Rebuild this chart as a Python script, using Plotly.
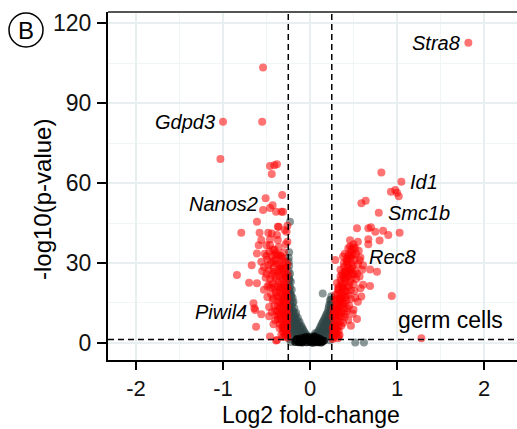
import plotly.graph_objects as go

# ---------------- data ----------------
# down-regulated (red, left)
down_x = [-1.00, -1.03, -0.54, -0.55, -0.46, -0.41, -0.38, -0.44, -0.51, -0.32, -0.43, -0.54, -0.46, -0.39,
          -0.33, -0.61, -0.37, -0.79, -0.58, -0.44, -0.38, -0.27, -0.56, -0.46, -0.37, -0.59, -0.50, -0.43,
          -0.47, -0.61, -0.50, -0.40, -0.33, -0.67, -0.56, -0.84, -0.70, -0.61, -0.65, -0.63, -0.56, -0.62,
          -0.38, -0.46, -0.31, -0.48, -0.36, -0.29, -0.64, -0.39,
          -0.26, -0.27, -0.29, -0.31, -0.28, -0.33, -0.26,
          -0.27, -0.30, -0.32, -0.35, -0.28, -0.26, -0.34, -0.37, -0.30, -0.40,
          -0.27, -0.29, -0.32, -0.35, -0.38, -0.26, -0.31, -0.41, -0.44, -0.28, -0.36, -0.47,
          -0.26, -0.30, -0.33, -0.38, -0.42, -0.28, -0.35, -0.45, -0.31, -0.40, -0.49, -0.26,
          -0.29, -0.33, -0.37, -0.43, -0.27, -0.31, -0.39, -0.47, -0.35, -0.44, -0.51, -0.26,
          -0.29, -0.33, -0.38, -0.42, -0.47, -0.31, -0.36, -0.45, -0.53, -0.28, -0.40,
          -0.33, -0.37, -0.44, -0.49, -0.30, -0.41, -0.36, -0.46, -0.28, -0.26, -0.26,
          -0.27, -0.29, -0.26, -0.30, -0.27, -0.32, -0.28, -0.34, -0.26, -0.29, -0.31, -0.27,
          -0.26, -0.28, -0.30, -0.27, -0.29, -0.32, -0.34, -0.26, -0.28, -0.31, -0.33, -0.36,
          -0.27, -0.30, -0.34, -0.37, -0.27, -0.29, -0.32, -0.36, -0.39, -0.27, -0.30, -0.34,
          -0.36, -0.41, -0.28, -0.32, -0.36, -0.40, -0.30, -0.34, -0.39, -0.42, -0.27, -0.31,
          -0.35, -0.39, -0.42, -0.48, -0.50, -0.46, -0.49, -0.45, -0.43, -0.40, -0.38, -0.35,
          -0.31, -0.52, -0.55, -0.53, -0.47, -0.42]
down_y = [83.0, 69.0, 103.4, 83.0, 66.4, 66.7, 67.1, 63.4, 54.3, 55.5, 51.7, 49.9, 50.6, 49.2,
          49.2, 45.5, 43.6, 41.4, 41.4, 41.1, 40.5, 41.7, 38.6, 38.9, 38.6, 36.7, 36.7, 35.1,
          34.2, 33.6, 32.6, 33.0, 32.4, 29.2, 30.5, 25.5, 22.6, 22.4, 14.9, 12.4, 10.8, 6.1,
          1.1, 2.4, 49.2, 41.4, 43.6, 42.4, 13.0, 0.9,
          2.0, 3.5, 2.8, 4.2, 5.0, 3.1, 6.0,
          7.0, 6.5, 8.0, 7.2, 9.0, 9.5, 10.0, 9.1, 10.5, 8.5,
          11.5, 12.5, 11.8, 13.0, 12.0, 13.5, 14.2, 14.0, 11.5, 15.0, 15.5, 13.5,
          16.5, 17.0, 16.2, 17.5, 16.8, 18.5, 19.0, 18.5, 19.8, 20.0, 17.2, 20.5,
          21.5, 22.0, 21.2, 22.5, 23.5, 24.0, 23.8, 21.8, 25.0, 25.5, 24.5, 25.8,
          26.5, 27.5, 27.0, 28.2, 27.3, 29.0, 29.5, 30.0, 28.5, 30.5, 31.0,
          31.5, 33.0, 32.5, 31.2, 34.0, 35.0, 36.0, 36.8, 37.0, 38.0, 44.0,
          4.5, 7.8, 11.0, 15.8, 18.0, 20.8, 24.8, 27.8, 29.5, 10.2, 5.6, 13.0,
          3.0, 4.2, 5.2, 5.8, 7.2, 6.0, 8.8, 8.2, 10.8, 11.2, 12.8, 10.8,
          14.5, 15.6, 14.8, 14.0, 17.8, 19.2, 18.0, 17.2, 18.8, 21.0, 22.5, 20.5,
          23.0, 21.0, 24.8, 25.6, 26.4, 25.2, 27.8, 28.8, 29.8, 26.6, 28.2, 31.8,
          32.8, 33.8, 30.8, 29.2, 26.0, 24.0, 21.2, 20.8, 16.0, 12.0, 10.2, 5.5,
          2.2, 33.5, 27.0, 20.0, 10.0, 7.0]

# up-regulated (red, right)
up_x = [1.82, 1.05, 0.82, 0.93, 1.00, 1.02, 0.98, 0.59, 0.64, 0.79, 0.54, 0.67, 0.70, 0.75, 0.84,
        1.03, 0.90, 0.67, 0.80, 0.50, 0.56, 0.38, 0.48, 0.58, 0.29, 0.69, 0.61, 0.77, 0.69, 0.57,
        0.94, 0.59, 0.44, 0.34, 1.28, 0.61, 0.67,
        0.26, 0.28, 0.27, 0.30, 0.32, 0.29, 0.33, 0.26,
        0.27, 0.30, 0.33, 0.28, 0.31, 0.35, 0.38, 0.26, 0.34, 0.40, 0.47,
        0.29, 0.32, 0.36, 0.28, 0.31, 0.35, 0.39, 0.42, 0.33, 0.38, 0.45, 0.50, 0.27,
        0.30, 0.34, 0.37, 0.41, 0.32, 0.36, 0.40, 0.44, 0.47, 0.52, 0.29, 0.55,
        0.33, 0.37, 0.40, 0.35, 0.43, 0.46, 0.39, 0.50, 0.44, 0.53, 0.31,
        0.37, 0.41, 0.45, 0.39, 0.43, 0.48, 0.52, 0.47, 0.35, 0.55,
        0.42, 0.45, 0.51, 0.40, 0.47, 0.53, 0.44, 0.50, 0.46,
        0.26, 0.28, 0.30, 0.27, 0.31, 0.29, 0.34, 0.32, 0.36, 0.38, 0.41, 0.43, 0.48, 0.35, 0.42,
        0.27, 0.29, 0.31, 0.28, 0.30, 0.32, 0.29, 0.33, 0.36, 0.30, 0.34, 0.37, 0.40,
        0.31, 0.35, 0.39, 0.42, 0.33, 0.38, 0.42, 0.45, 0.36, 0.41, 0.48, 0.38, 0.42,
        0.46, 0.40, 0.44, 0.49, 0.43, 0.47, 0.50, 0.44, 0.48, 0.52, 0.46, 0.55, 0.57,
        0.54, 0.50, 0.51, 0.47, 0.43, 0.40, 0.36, 0.33, 0.58, 0.60, 0.39, 0.49, 0.54]
up_y = [112.7, 60.5, 64.0, 56.7, 56.4, 55.1, 57.4, 52.4, 53.4, 48.9, 43.0, 43.0, 43.4, 41.7, 42.1,
        41.4, 40.5, 38.9, 38.4, 35.9, 34.6, 32.4, 33.0, 32.1, 31.1, 27.6, 29.2, 26.7, 21.4, 24.9,
        17.6, 17.4, 8.6, 3.0, 1.8, 21.8, 37.0,
        1.5, 2.5, 4.0, 3.5, 1.8, 5.0, 4.6, 5.5,
        6.5, 7.0, 6.2, 8.5, 9.0, 8.0, 7.5, 9.8, 10.3, 9.8, 6.5,
        11.0, 12.0, 11.5, 13.5, 14.0, 13.8, 12.8, 11.8, 15.0, 15.2, 14.0, 12.5, 12.5,
        16.5, 17.0, 16.5, 17.2, 18.5, 19.0, 19.5, 18.0, 19.8, 17.0, 18.0, 15.5,
        21.0, 21.5, 22.5, 23.5, 21.0, 23.0, 24.5, 22.0, 25.0, 24.0, 22.5,
        26.0, 27.0, 26.5, 28.5, 29.5, 28.0, 27.0, 30.0, 27.5, 29.5,
        31.5, 32.5, 31.0, 33.5, 34.0, 33.5, 35.5, 37.0, 38.5,
        3.0, 6.0, 10.5, 11.0, 13.0, 16.0, 15.8, 20.2, 18.2, 20.8, 24.2, 27.0, 25.8, 25.0, 30.5,
        2.0, 3.2, 4.8, 6.0, 5.5, 8.2, 10.0, 11.2, 9.8, 12.8, 13.0, 14.2, 14.8,
        15.8, 16.2, 17.8, 16.0, 19.8, 20.5, 19.2, 21.5, 22.2, 23.8, 24.2, 25.2, 25.8,
        27.5, 26.8, 28.2, 29.0, 30.8, 31.8, 33.0, 33.0, 35.2, 35.5, 36.2, 38.0, 31.0,
        26.0, 25.8, 19.5, 16.5, 13.0, 10.8, 6.5, 2.5, 20.5, 27.5, 30.0, 11.0, 9.0]

# not significant (grey)
ns_x = [-0.23, -0.24, -0.24, -0.245, -0.23, -0.24, -0.22, -0.245, -0.23, -0.21, -0.24, -0.22, -0.20,
        -0.24, -0.19, -0.225, -0.21, -0.18, -0.24, -0.20, -0.16, -0.23, -0.185, -0.14, -0.22, -0.17,
        -0.12, -0.20, -0.15, -0.10, -0.24, -0.18, -0.13, -0.08, -0.21, -0.16, -0.11, -0.06, -0.19,
        -0.14, -0.09, -0.04, -0.23, -0.17, -0.12, -0.02,
        0.245, 0.23, 0.245, 0.22, 0.24, 0.21, 0.235, 0.19, 0.245, 0.22, 0.17, 0.20, 0.24, 0.15,
        0.22, 0.18, 0.13, 0.245, 0.20, 0.16, 0.11, 0.23, 0.18, 0.14, 0.09, 0.21, 0.07, 0.12, 0.17,
        0.24, 0.04, 0.10, 0.15, 0.20, 0.146, 0.52, 0.62, -0.22, 0.23, -0.24,
        -0.245, -0.235, -0.245, -0.23, -0.215, -0.245, -0.20, -0.235, -0.22, -0.19, -0.245, -0.17,
        -0.21, -0.235, -0.155, -0.19, -0.13, -0.22, -0.17, -0.11, -0.20, -0.145, -0.09, -0.19,
        -0.125, -0.07, -0.22, -0.10, -0.16, -0.05, -0.20, -0.14, -0.03, -0.245, -0.245,
        0.24, 0.235, 0.215, 0.245, 0.20, 0.225, 0.18, 0.21, 0.16, 0.235, 0.19, 0.14, 0.21,
        0.17, 0.12, 0.225, 0.19, 0.10, 0.15, 0.20, 0.06, 0.13, 0.24, 0.08, 0.18, 0.22, 0.02, 0.125]
ns_y = [45.5, 34.0, 29.0, 27.0, 26.0, 24.0, 23.0, 22.0, 21.0, 20.0, 19.5, 18.0, 17.0,
        16.5, 15.5, 15.0, 13.8, 13.0, 13.0, 12.0, 11.2, 11.0, 10.2, 9.5, 9.5, 8.8,
        8.0, 8.0, 7.2, 6.5, 7.0, 6.5, 5.8, 5.0, 5.5, 5.0, 4.3, 3.8, 4.0,
        3.5, 3.0, 2.8, 3.5, 2.8, 2.5, 2.2,
        17.5, 16.0, 15.0, 14.2, 13.0, 12.3, 11.5, 10.8, 10.5, 10.0, 9.3, 8.8, 8.5, 8.0,
        7.6, 7.2, 6.6, 6.5, 6.2, 5.8, 5.2, 5.2, 4.8, 4.4, 4.0, 4.0, 3.2, 3.4, 3.5,
        3.2, 2.6, 2.5, 2.4, 2.5, 18.6, 0.2, 0.2, 0.4, 1.0, 1.5,
        25.0, 23.5, 20.5, 19.0, 17.5, 18.0, 15.0, 14.0, 12.5, 11.8, 11.8, 10.5,
        10.8, 9.8, 9.0, 9.2, 7.6, 7.8, 7.6, 6.2, 6.8, 6.4, 5.5, 5.4,
        4.8, 4.3, 4.5, 3.6, 3.8, 3.2, 2.7, 2.6, 2.6, 30.5, 32.0,
        16.2, 14.6, 13.2, 12.0, 11.2, 10.8, 10.0, 9.3, 8.6, 8.8, 8.1, 7.4, 7.2,
        6.7, 6.0, 6.0, 5.5, 4.6, 5.1, 4.6, 3.6, 3.9, 4.4, 2.8, 3.0, 3.4, 2.3, 2.4]

# dense core near zero (dark)
core_x = [-0.15, -0.12, -0.10, -0.08, -0.06, -0.04, -0.02, 0.00, 0.02, 0.04, 0.06, 0.08, 0.10,
          0.12, 0.14, -0.13, -0.01, 0.03, -0.09, 0.09, -0.05, 0.05,
          -0.14, -0.11, -0.07, -0.03, 0.01, 0.05, 0.07, 0.11, 0.13, -0.17, 0.16, -0.16]
core_y = [1.5, 1.0, 1.8, 0.6, 1.3, 0.3, 1.0, 0.4, 1.2, 0.5, 1.6, 0.8, 0.3,
          1.4, 0.7, 0.3, 2.0, 0.1, 0.2, 1.9, 2.2, 2.4,
          0.9, 0.4, 1.6, 1.5, 0.8, 1.9, 0.3, 0.9, 0.2, 0.4, 0.8, 1.1]

# gene labels (anchored at their points)
gene_names = ["Stra8", "Gdpd3", "Id1", "Nanos2", "Smc1b", "Rec8", "Piwil4"]
gene_x = [1.82, -1.00, 1.05, -0.51, 0.79, 0.58, -0.63]
gene_y = [112.7, 83.0, 60.5, 52.0, 48.9, 32.1, 11.8]
gene_side = ["left", "left", "right", "left", "right", "right", "left"]

x_ticks = [-2, -1, 0, 1, 2]
y_ticks = [0, 30, 60, 90, 120]
fc_cut = 0.25
p_cut = 1.3

# ---------------- figure ----------------
fig = go.Figure()
fig.add_trace(go.Scatter(x=ns_x, y=ns_y, mode="markers",
                         marker=dict(size=8, color="rgba(47,69,69,0.55)", line=dict(width=0))))
fig.add_trace(go.Scatter(x=core_x, y=core_y, mode="markers",
                         marker=dict(size=8, color="rgba(0,0,0,0.8)", line=dict(width=0))))
fig.add_trace(go.Scatter(x=down_x, y=down_y, mode="markers",
                         marker=dict(size=8, color="rgba(255,0,0,0.55)", line=dict(width=0))))
fig.add_trace(go.Scatter(x=up_x, y=up_y, mode="markers",
                         marker=dict(size=8, color="rgba(255,0,0,0.55)", line=dict(width=0))))

dash_line = dict(color="black", width=1.5, dash="6px,4px")
for xv in (-fc_cut, fc_cut):
    fig.add_shape(type="line", xref="x", yref="paper", x0=xv, x1=xv, y0=0, y1=1, line=dash_line)
fig.add_hline(y=p_cut, line=dash_line)
# top panel border
fig.add_shape(type="line", xref="paper", yref="paper", x0=0, x1=1, y0=1, y1=1,
              line=dict(color="#555555", width=2))

for name, gx, gy, side in zip(gene_names, gene_x, gene_y, gene_side):
    fig.add_annotation(x=gx, y=gy, xref="x", yref="y", text="<i>" + name + "</i>", showarrow=False,
                       xanchor="right" if side == "left" else "left",
                       xshift=-6 if side == "left" else 7,
                       font=dict(family="Liberation Sans", size=20, color="black"),
                       yanchor="middle")

fig.add_annotation(x=1.615, y=8.6, xref="x", yref="y", text="germ cells", showarrow=False,
                   font=dict(family="Liberation Sans", size=23, color="black"))

# axis titles
fig.add_annotation(xref="paper", yref="paper", x=0.5, y=0, yshift=-55, xshift=-2,
                   text="Log2 fold-change", showarrow=False, xanchor="center", yanchor="middle",
                   font=dict(family="Liberation Sans", size=23, color="black"))
fig.add_annotation(xref="paper", yref="paper", x=0, y=0.5, xshift=-66, yshift=-14,
                   text="-log10(p-value)", showarrow=False, textangle=-90,
                   xanchor="center", yanchor="middle",
                   font=dict(family="Liberation Sans", size=24, color="black"))

# panel letter
fig.add_shape(type="circle", xref="paper", yref="paper", xsizemode="pixel", ysizemode="pixel",
              xanchor=0, yanchor=1, x0=-99, x1=-65, y0=-35, y1=-1,
              line=dict(color="black", width=1.5))
fig.add_annotation(xref="paper", yref="paper", x=0, y=1, xshift=-82, yshift=-18,
                   text="B", showarrow=False, xanchor="center", yanchor="middle",
                   font=dict(family="Liberation Sans", size=24, color="black"))

x_tick_font = dict(family="Liberation Sans", size=22, color="#111111")
y_tick_font = dict(family="Liberation Sans", size=23, color="#111111")
fig.update_layout(
    width=517, height=429,
    margin=dict(l=108, r=0, t=12, b=69),
    plot_bgcolor="white", paper_bgcolor="white",
    showlegend=False,
    font=dict(family="Liberation Sans"),
)
fig.update_xaxes(range=[-2.322, 2.379], tickvals=x_ticks, ticktext=[str(v) for v in x_ticks],
                 ticks="outside", ticklen=8, tickwidth=2, tickcolor="black",
                 ticklabelstandoff=0,
                 showline=True, linecolor="black", linewidth=2,
                 showgrid=True, gridcolor="#E8EFF1", gridwidth=2,
                 minor=dict(dtick=0.5, tick0=0, showgrid=True, gridcolor="#F0F5F6", gridwidth=1, ticks=""),
                 zeroline=False, tickfont=x_tick_font)
fig.update_yaxes(range=[-6.4, 124.2], tickvals=y_ticks, ticktext=[str(v) for v in y_ticks],
                 ticks="outside", ticklen=9, tickwidth=2, tickcolor="black",
                 ticklabelstandoff=1,
                 showline=True, linecolor="black", linewidth=2,
                 showgrid=True, gridcolor="#E8EFF1", gridwidth=2,
                 minor=dict(dtick=15, tick0=0, showgrid=True, gridcolor="#F0F5F6", gridwidth=1, ticks=""),
                 zeroline=False, tickfont=y_tick_font)

fig.write_html("out.html")
